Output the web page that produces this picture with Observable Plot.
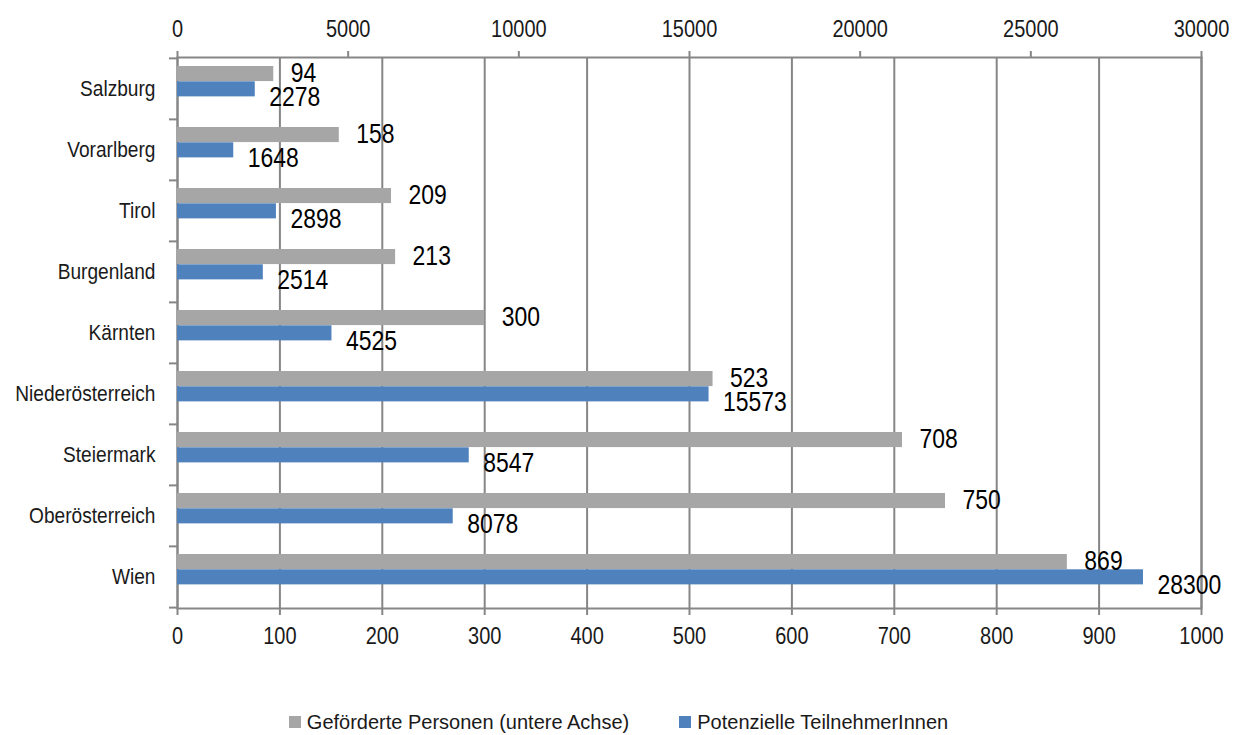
<!DOCTYPE html>
<html>
<head>
<meta charset="utf-8">
<script src="https://cdn.jsdelivr.net/npm/d3@7"></script>
<script src="https://cdn.jsdelivr.net/npm/@observablehq/plot@0.6"></script>
<style>
  html, body { margin: 0; padding: 0; background: #fff; }
  body { width: 1237px; font-family: "Liberation Sans", Arial, sans-serif; }
  #legend { display: flex; justify-content: center; align-items: center; gap: 50px; margin-top: 10px; height: 24px; font-size: 20px; color: #1a1a1a; }
  #legend .item { display: flex; align-items: center; gap: 6px; }
  #legend .sw { width: 12px; height: 12px; display: inline-block; }
</style>
</head>
<body>
<div id="chart"></div>
<div id="legend"></div>
<script>
// Bundesländer, top to bottom
const regions = ["Salzburg", "Vorarlberg", "Tirol", "Burgenland", "Kärnten", "Niederösterreich", "Steiermark", "Oberösterreich", "Wien"];
// Geförderte Personen (lower axis, 0–1000)
const gefoerdert = [94, 158, 209, 213, 300, 523, 708, 750, 869];
// Potenzielle TeilnehmerInnen (upper axis, 0–30000)
const potenziell = [2278, 1648, 2898, 2514, 4525, 15573, 8547, 8078, 28300];

const seriesNames = ["Geförderte Personen (untere Achse)", "Potenzielle TeilnehmerInnen"];
const seriesColors = ["#a6a6a6", "#4f81bd"];

const lowerTicks = d3.range(0, 1001, 100);
const upperTicks = d3.range(0, 30001, 5000);
// the upper axis spans 0–30000 over the same width as 0–1000 below
const axisRatio = 30000 / 1000;

const rows = regions.map((r, i) => ({region: r, g: gefoerdert[i], p: potenziell[i], pScaled: potenziell[i] / axisRatio}));

const W = 1237, H = 700;
const mTop = 57, mBottom = 92, mLeft = 177, mRight = 36;
const bw = (H - mTop - mBottom) / regions.length;

const gridColor = "#868686";

const chart = Plot.plot({
  width: W,
  height: H,
  marginTop: mTop,
  marginBottom: mBottom,
  marginLeft: mLeft,
  marginRight: mRight,
  style: {fontFamily: "\"Liberation Sans\", Arial, sans-serif", fontSize: "23px", color: "#1a1a1a", background: "#fff"},
  x: {domain: [0, 1000], label: null},
  y: {domain: regions, padding: 0, label: null},
  marks: [
    Plot.gridX(lowerTicks, {stroke: gridColor, strokeOpacity: 1, strokeWidth: 2}),
    Plot.frame({stroke: gridColor, strokeWidth: 2}),
    // category boundary tick marks on the left axis
    Plot.axisY({tickSize: 8, tickFormat: () => "", dy: -bw / 2, stroke: gridColor, strokeWidth: 2}),
    Plot.axisY([regions[regions.length - 1]], {tickSize: 8, tickFormat: () => "", dy: bw / 2, stroke: gridColor, strokeWidth: 2}),
    Plot.axisY({tickSize: 0, tickPadding: 22, fontSize: 22.5}),
    // lower axis: Geförderte Personen
    Plot.axisX({anchor: "bottom", ticks: lowerTicks, tickFormat: d => String(d), tickSize: 7, tickPadding: 12, stroke: gridColor, strokeWidth: 2, fontSize: 23.5}),
    // upper axis: Potenzielle TeilnehmerInnen
    Plot.axisX({anchor: "top", ticks: upperTicks.map(v => v / axisRatio), tickFormat: d => String(Math.round(d * axisRatio)), tickSize: 7, tickPadding: 13.5, stroke: gridColor, strokeWidth: 2, fontSize: 23.5}),
    Plot.barX(rows, {x: "g", y: "region", fill: seriesColors[0], insetTop: 8, insetBottom: bw - 23.3}),
    Plot.barX(rows, {x: "pScaled", y: "region", fill: seriesColors[1], insetTop: 23.3, insetBottom: bw - 38.6}),
    Plot.text(rows, {x: "g", y: "region", text: d => String(d.g), textAnchor: "start", dx: 17, dy: -15.5, fontSize: 27, fill: "#000"}),
    Plot.text(rows, {x: "pScaled", y: "region", text: d => String(d.p), textAnchor: "start", dx: 14, dy: 8, fontSize: 27, fill: "#000"})
  ]
});
document.getElementById("chart").append(chart);

// the chart's typeface is a narrow sans: condense every label horizontally
const condense = 0.85;
chart.querySelectorAll("text").forEach(t => {
  const w = t.getComputedTextLength();
  if (w > 0) {
    t.setAttribute("textLength", (w * condense).toFixed(2));
    t.setAttribute("lengthAdjust", "spacingAndGlyphs");
  }
});

const legend = document.getElementById("legend");
seriesNames.forEach((name, i) => {
  const item = document.createElement("div");
  item.className = "item";
  const sw = document.createElement("span");
  sw.className = "sw";
  sw.style.background = seriesColors[i];
  const label = document.createElement("span");
  label.textContent = name;
  item.append(sw, label);
  legend.append(item);
});
</script>
</body>
</html>
